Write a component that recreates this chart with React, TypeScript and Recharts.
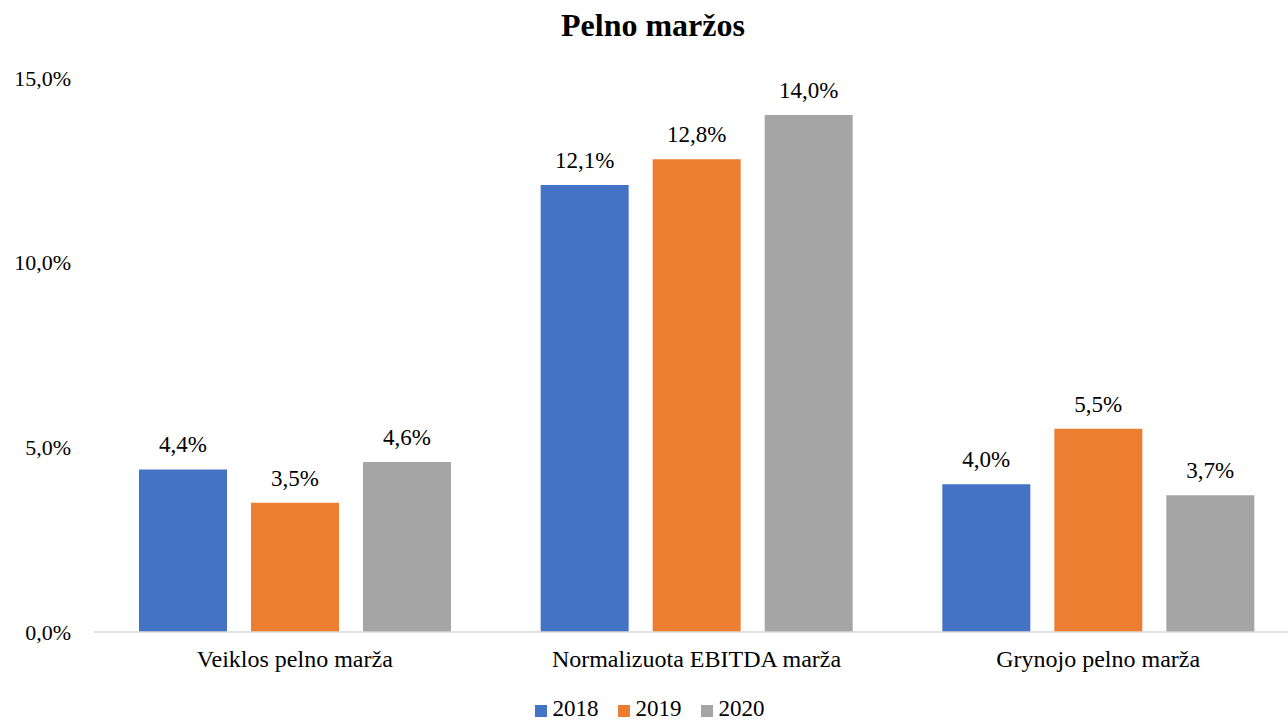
import React from "react";
import { BarChart, Bar, XAxis, YAxis, Legend, LabelList } from "recharts";

const categories = ["Veiklos pelno marža", "Normalizuota EBITDA marža", "Grynojo pelno marža"];
const years = ["2018", "2019", "2020"];
const values2018 = [4.4, 12.1, 4.0];
const values2019 = [3.5, 12.8, 5.5];
const values2020 = [4.6, 14.0, 3.7];
const yTicks = [0, 5, 10, 15];
const colors = ["#4472C4", "#ED7D31", "#A5A5A5"];

const data = categories.map((name, i) => ({
    name,
    "2018": values2018[i],
    "2019": values2019[i],
    "2020": values2020[i],
}));

const FONT = "Liberation Serif";
const pct = (v: number) => `${v.toFixed(1).replace(".", ",")}%`;

function LegendContent() {
    return (
        <div style={{ position: "relative", top: 3, display: "flex", justifyContent: "center", alignItems: "center", height: 28, fontFamily: FONT, fontSize: 23, lineHeight: "18px", color: "#000" }}>
            {years.map((y, i) => (
                <div key={y} style={{ display: "flex", alignItems: "center", height: 18, marginRight: i < years.length - 1 ? 19 : 0 }}>
                    <span style={{ display: "inline-block", position: "relative", top: 2, width: 12, height: 12, background: colors[i], marginRight: 6 }} />
                    <span>{y}</span>
                </div>
            ))}
        </div>
    );
}

export default function App() {
    return (
        <div style={{ position: "absolute", left: 0, top: 0, width: 1288, height: 720, overflow: "hidden", background: "#fff", fontFamily: FONT }}>
            <div style={{ position: "absolute", top: 9, left: 0, width: 1306, textAlign: "center", fontFamily: FONT, fontWeight: "bold", fontSize: 32, lineHeight: 1, color: "#000" }}>
                Pelno maržos
            </div>
            <BarChart width={1299} height={720} data={data} margin={{ top: 78, right: 0, left: 0, bottom: 0 }} barGap={24} style={{ fontFamily: FONT }}>
                <XAxis
                    dataKey="name"
                    height={60}
                    tickLine={false}
                    tickSize={0}
                    tickMargin={18}
                    axisLine={{ stroke: "#D9D9D9", strokeWidth: 1.5 }}
                    tick={{ fontFamily: FONT, fontSize: 24, fill: "#000" }}
                />
                <YAxis
                    width={94}
                    domain={[0, 15]}
                    ticks={yTicks}
                    axisLine={false}
                    tickLine={false}
                    tickSize={0}
                    tickMargin={23}
                    tickFormatter={pct}
                    tick={{ fontFamily: FONT, fontSize: 22, fill: "#000" }}
                />
                <Legend verticalAlign="bottom" height={28} content={<LegendContent />} />
                {years.map((y, i) => (
                    <Bar key={y} dataKey={y} fill={colors[i]} barSize={88} isAnimationActive={false}>
                        <LabelList dataKey={y} position="top" offset={17} formatter={(v: any) => pct(Number(v))} fontFamily={FONT} fontSize={23} fill="#000" />
                    </Bar>
                ))}
            </BarChart>
        </div>
    );
}
